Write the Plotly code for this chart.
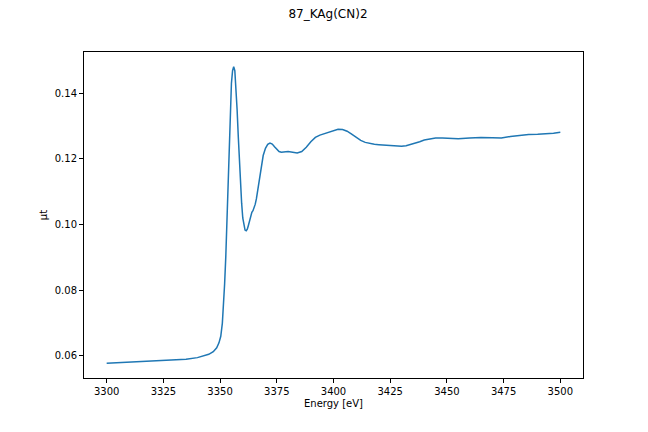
import plotly.graph_objects as go

# XANES scan
energy = [
    3300, 3310, 3320, 3330, 3335, 3340, 3343, 3345, 3347, 3348.5,
    3349.5, 3350.3, 3351, 3351.5, 3352, 3352.5, 3353, 3353.5, 3354, 3354.5,
    3355, 3355.5, 3356, 3356.5, 3357, 3357.5, 3358, 3358.5, 3359, 3359.5,
    3360, 3360.5, 3361, 3361.5, 3362, 3362.5, 3363, 3363.5, 3364, 3364.5,
    3365, 3365.5, 3366, 3366.5, 3367, 3367.5, 3368, 3369, 3370, 3371,
    3372, 3373, 3374, 3375, 3376, 3377, 3378, 3380, 3382, 3384,
    3386, 3388, 3390, 3392, 3394, 3396, 3398, 3400, 3402, 3404,
    3406, 3408, 3410, 3412, 3414, 3416, 3418, 3420, 3422, 3424,
    3426, 3428, 3430, 3432, 3435, 3438, 3440, 3442, 3445, 3448,
    3452, 3455, 3460, 3465, 3470, 3474, 3478, 3482, 3486, 3490,
    3494, 3497, 3500,
]
mu_t = [
    0.0578, 0.0582, 0.0585, 0.0588, 0.0590, 0.0595, 0.0600, 0.0605, 0.0613, 0.0625,
    0.0640, 0.0660, 0.0700, 0.0750, 0.0820, 0.0900, 0.1000, 0.1120, 0.1250, 0.1360,
    0.1430, 0.1468, 0.1480, 0.1468, 0.1420, 0.1350, 0.1270, 0.1190, 0.1120, 0.1065,
    0.1020, 0.0995, 0.0983, 0.0981, 0.0986, 0.0998, 0.1012, 0.1027, 0.1037, 0.1042,
    0.1050, 0.1062, 0.1078, 0.1100, 0.1125, 0.1150, 0.1172, 0.1210, 0.1232, 0.1244,
    0.1248, 0.1245, 0.1237, 0.1228, 0.1222, 0.1220, 0.1221, 0.1222, 0.1220, 0.1218,
    0.1222, 0.1235, 0.1252, 0.1265, 0.1272, 0.1276, 0.1281, 0.1286, 0.1290, 0.1289,
    0.1284, 0.1275, 0.1265, 0.1256, 0.1250, 0.1246, 0.1244, 0.1243, 0.1242, 0.1241,
    0.1240, 0.1238, 0.1238, 0.1240, 0.1245, 0.1252, 0.1257, 0.1260, 0.1263, 0.1263,
    0.1262, 0.1261, 0.1263, 0.1265, 0.1264, 0.1263, 0.1268, 0.1272, 0.1274, 0.1275,
    0.1276, 0.1278, 0.1281,
]
x_ticks = [3300, 3325, 3350, 3375, 3400, 3425, 3450, 3475, 3500]
y_ticks = [0.06, 0.08, 0.10, 0.12, 0.14]

fig = go.Figure()
fig.add_trace(go.Scatter(
    x=energy, y=mu_t,
    mode='lines',
    line=dict(color='#1f77b4', width=1.5),
    showlegend=False,
))

axis_style = dict(
    showline=True, mirror=True, linecolor='black', linewidth=1,
    ticks='outside', ticklen=4, tickcolor='black', tickwidth=1,
    showgrid=False, zeroline=False,
    tickfont=dict(size=10, color='black'),
)

# page body has an 8px margin, so the figure is a bit smaller and shifted
fig.update_layout(
    width=640, height=424,
    margin=dict(l=76, r=65, t=44, b=54),
    paper_bgcolor='white', plot_bgcolor='white',
    font=dict(family='DejaVu Sans', color='black'),
    title=dict(text='87_KAg(CN)2', x=0.5, xanchor='center',
               y=0.986, yanchor='middle', font=dict(size=12)),
    xaxis=dict(
        range=[3290, 3510],
        tickvals=x_ticks,
        title=dict(text='Energy [eV]', font=dict(size=10), standoff=3),
        **axis_style,
    ),
    yaxis=dict(
        range=[0.0533, 0.1525],
        tickvals=y_ticks,
        tickformat='.2f',
        title=dict(text='μt', font=dict(size=10), standoff=5),
        **axis_style,
    ),
)

fig.write_html("out.html")
